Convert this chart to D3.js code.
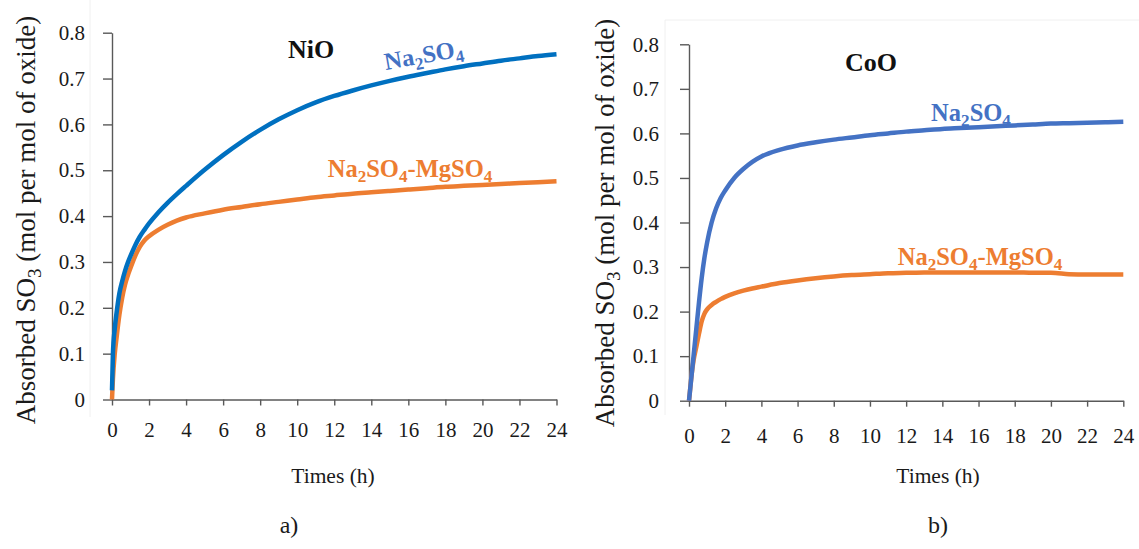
<!DOCTYPE html>
<html><head><meta charset="utf-8">
<script src="https://cdn.jsdelivr.net/npm/d3@7"></script>
<style>html,body{margin:0;padding:0;background:#fff;} svg{display:block;}</style>
</head><body>
<svg id="chart" width="1139" height="549"></svg>
<script>
// ---------- DATA ----------
const times = [0, 0.05, 0.15, 0.25, 0.4, 0.55, 0.7, 0.85, 1, 1.25, 1.5, 1.75, 2, 2.5, 3, 3.5, 4, 5, 6, 7, 8, 9, 10, 11, 12, 13, 14, 15, 16, 17, 18, 19, 20, 21, 22, 23, 24];
const nioNa2SO4 = [0.02, 0.1, 0.155, 0.19, 0.232, 0.258, 0.28, 0.298, 0.313, 0.336, 0.355, 0.37, 0.384, 0.408, 0.429, 0.448, 0.466, 0.501, 0.533, 0.562, 0.588, 0.611, 0.631, 0.648, 0.662, 0.674, 0.685, 0.695, 0.704, 0.712, 0.72, 0.727, 0.733, 0.739, 0.744, 0.749, 0.753];
const nioMix = [0, 0.045, 0.1, 0.136, 0.185, 0.222, 0.25, 0.27, 0.287, 0.313, 0.333, 0.347, 0.356, 0.37, 0.381, 0.39, 0.397, 0.406, 0.414, 0.42, 0.426, 0.431, 0.436, 0.441, 0.445, 0.449, 0.452, 0.455, 0.458, 0.461, 0.464, 0.466, 0.468, 0.47, 0.472, 0.474, 0.476];
const cooNa2SO4 = [0, 0.02, 0.06, 0.1, 0.16, 0.22, 0.275, 0.32, 0.355, 0.4, 0.432, 0.455, 0.472, 0.5, 0.52, 0.536, 0.548, 0.563, 0.573, 0.58, 0.586, 0.591, 0.596, 0.6, 0.604, 0.607, 0.61, 0.612, 0.614, 0.616, 0.618, 0.62, 0.622, 0.623, 0.624, 0.625, 0.626];
const cooMix = [0, 0.02, 0.06, 0.09, 0.12, 0.15, 0.178, 0.195, 0.205, 0.215, 0.222, 0.228, 0.233, 0.241, 0.247, 0.252, 0.256, 0.264, 0.27, 0.275, 0.279, 0.282, 0.284, 0.286, 0.287, 0.288, 0.288, 0.288, 0.288, 0.288, 0.288, 0.287, 0.287, 0.284, 0.283, 0.283, 0.283];
const xTicks = [0, 2, 4, 6, 8, 10, 12, 14, 16, 18, 20, 22, 24];
const yTicks = [0, 0.1, 0.2, 0.3, 0.4, 0.5, 0.6, 0.7, 0.8];
const panelTitles = ["NiO", "CoO"];
const panelLetters = ["a)", "b)"];
const seriesNames = [[["Na",0],["2",1],["SO",0],["4",1]], [["Na",0],["2",1],["SO",0],["4",1],["-MgSO",0],["4",1]]];
const yTitleParts = [["Absorbed SO",0],["3",1],[" (mol per mol of oxide)",0]];
const xTitle = "Times (h)";

// ---------- DRAW ----------
const svg = d3.select("#chart");
const FONT = "Liberation Serif";
const AXIS = "#595959";

function richText(sel, parts, fs) {
  let shifted = false;
  parts.forEach(([t, sub]) => {
    const ts = sel.append("tspan").text(t);
    if (sub && !shifted) { ts.attr("dy", fs * 0.22).attr("font-size", fs * 0.7); shifted = true; }
    else if (sub) { ts.attr("font-size", fs * 0.7); }
    else if (!sub && shifted) { ts.attr("dy", -fs * 0.22); shifted = false; }
  });
}

const panels = [
  { x0: 112, x1: 556.5, y0: 399.5, y1: 32.7, s1: nioNa2SO4, s2: nioMix, c1: "#0070C0", lc1: "#4472C4",
    tickPad: 18, xLabY: 37.5, titleX: 311, titleY: 58, yTitleX: 26, yTitleY: 220, xTitleX: 333, letterX: 289,
    frame: {x: 90, top: 0, bottom: 417},
    lab1: {x: 425, y: 63, rot: -10}, lab2: {x: 410, y: 177, rot: 0} },
  { x0: 689, x1: 1123.3, y0: 400.7, y1: 44.3, s1: cooNa2SO4, s2: cooMix, c1: "#4472C4", lc1: "#4472C4",
    tickPad: 21, xLabY: 42.5, titleX: 871, titleY: 71, yTitleX: 605, yTitleY: 223, xTitleX: 938, letterX: 938,
    frame: {x: 665, top: 20, bottom: 415},
    lab1: {x: 971, y: 121, rot: 0}, lab2: {x: 980, y: 265, rot: 0} }
];

panels.forEach((p, i) => {
  const x = d3.scaleLinear().domain([0, 24]).range([p.x0, p.x1]);
  const y = d3.scaleLinear().domain([0, 0.8]).range([p.y0, p.y1]);
  const g = svg.append("g");

  // faint frame
  g.append("line").attr("x1", p.frame.x).attr("x2", p.frame.x).attr("y1", p.frame.top).attr("y2", p.frame.bottom)
    .attr("stroke", "#f0f0f0").attr("stroke-width", 1);
  if (i === 1) g.append("line").attr("x1", p.frame.x).attr("x2", 1139).attr("y1", p.frame.top).attr("y2", p.frame.top)
    .attr("stroke", "#f0f0f0").attr("stroke-width", 1);

  // axes
  const ya = g.append("g").attr("transform", `translate(${p.x0},0)`)
    .call(d3.axisLeft(y).tickValues(yTicks).tickSize(9).tickSizeOuter(0).tickPadding(p.tickPad)
      .tickFormat(d => d === 0 ? "0" : d3.format(".1f")(d)));
  const xa = g.append("g").attr("transform", `translate(0,${p.y0})`)
    .call(d3.axisBottom(x).tickValues(xTicks).tickSize(6).tickSizeOuter(0).tickFormat(d3.format("d")));
  xa.selectAll("text").attr("y", p.xLabY).attr("dy", 0);
  [ya, xa].forEach(a => {
    a.attr("font-family", FONT);
    a.select(".domain").attr("stroke", AXIS).attr("stroke-width", 1.4);
    a.selectAll(".tick line").attr("stroke", AXIS).attr("stroke-width", 1.4);
    a.selectAll("text").attr("font-family", FONT).attr("font-size", 21).attr("fill", "#1a1a1a");
  });

  // lines
  const line = d3.line().x((d, k) => x(times[k])).y(d => y(d)).curve(d3.curveMonotoneX);
  g.append("path").datum(p.s2).attr("d", line).attr("fill", "none").attr("stroke", "#ED7D31").attr("stroke-width", 4.5);
  g.append("path").datum(p.s1).attr("d", line).attr("fill", "none").attr("stroke", p.c1).attr("stroke-width", 4.5);

  // title
  g.append("text").attr("x", p.titleX).attr("y", p.titleY).attr("text-anchor", "middle")
    .attr("font-family", FONT).attr("font-weight", "bold").attr("font-size", 26).attr("fill", "#111").text(panelTitles[i]);

  // series labels
  const l1 = g.append("text").attr("transform", `translate(${p.lab1.x},${p.lab1.y}) rotate(${p.lab1.rot})`)
    .attr("text-anchor", "middle").attr("font-family", FONT).attr("font-weight", "bold").attr("font-size", 24.5).attr("fill", p.lc1);
  richText(l1, seriesNames[0], 24.5);
  const l2 = g.append("text").attr("transform", `translate(${p.lab2.x},${p.lab2.y}) rotate(${p.lab2.rot})`)
    .attr("text-anchor", "middle").attr("font-family", FONT).attr("font-weight", "bold").attr("font-size", 24.5).attr("fill", "#ED7D31");
  richText(l2, seriesNames[1], 24.5);

  // y title
  const yt = g.append("text").attr("transform", `translate(${p.yTitleX},${p.yTitleY}) rotate(-90)`)
    .attr("text-anchor", "middle").attr("dy", "0.35em").attr("font-family", FONT).attr("font-size", 27).attr("fill", "#1a1a1a");
  richText(yt, yTitleParts, 27);

  // x title
  g.append("text").attr("x", p.xTitleX).attr("y", 483).attr("text-anchor", "middle")
    .attr("font-family", FONT).attr("font-size", 21.5).attr("fill", "#1a1a1a").text(xTitle);
  // letter
  g.append("text").attr("x", p.letterX).attr("y", 533).attr("text-anchor", "middle")
    .attr("font-family", FONT).attr("font-size", 24).attr("fill", "#1a1a1a").text(panelLetters[i]);
});
</script>
</body></html>
